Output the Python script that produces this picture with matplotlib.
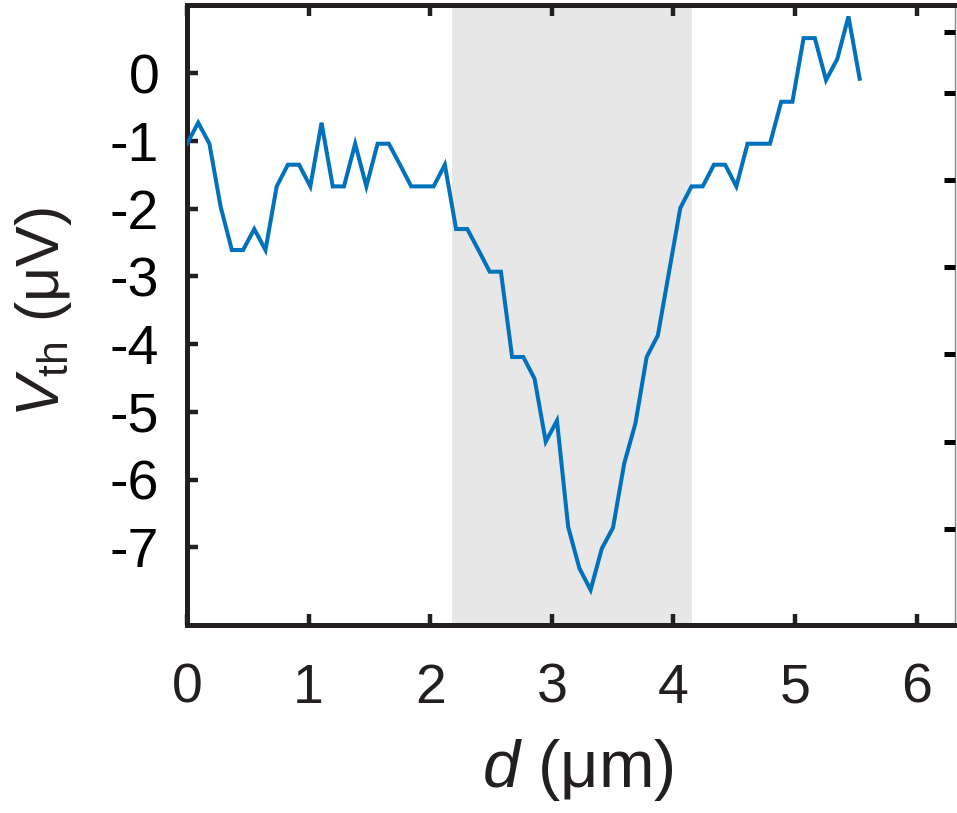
import numpy as np
import matplotlib.pyplot as plt

plt.rcParams['font.family'] = ['Liberation Sans', 'DejaVu Sans']
plt.rcParams['mathtext.fontset'] = 'custom'
plt.rcParams['mathtext.rm'] = 'Liberation Sans'
plt.rcParams['mathtext.it'] = 'Liberation Sans:italic'

# thermoelectric voltage along the line scan
vth = [-1.04, -0.73, -1.04, -1.97, -2.61, -2.61, -2.30, -2.61, -1.67, -1.35,
       -1.35, -1.67, -0.73, -1.67, -1.67, -1.04, -1.67, -1.04, -1.04, -1.35,
       -1.67, -1.67, -1.67, -1.35, -2.30, -2.30, -2.61, -2.93, -2.93, -4.19,
       -4.19, -4.51, -5.44, -5.13, -6.70, -7.31, -7.63, -7.02, -6.71, -5.76,
       -5.17, -4.19, -3.87, -2.93, -1.99, -1.67, -1.67, -1.35, -1.35, -1.67,
       -1.04, -1.04, -1.04, -0.42, -0.42, 0.52, 0.52, -0.10, 0.21, 0.84,
       -0.08]
d_step = 0.0922  # scan step in um
d = np.arange(len(vth)) * d_step

band = (2.18, 4.15)
xticks = [0, 1, 2, 3, 4, 5, 6]
yticks = [0, -1, -2, -3, -4, -5, -6, -7]
right_ticks = [0.61, -0.29, -1.58, -2.86, -4.15, -5.44, -6.73]

ink = '#231f20'

fig = plt.figure(figsize=(9.57, 8.13), dpi=100)
ax = fig.add_axes([187 / 957, 1 - 625 / 813, 768 / 957, 620 / 813])

ax.axvspan(band[0], band[1], color='#e7e7e7', lw=0, zorder=0)
ax.plot(d, vth, color='#0072bd', lw=2.9, solid_joinstyle='miter', zorder=3)

ax.set_xlim(0, 6.316)
ax.set_ylim(-8.148, 1.009)
ax.set_xticks(xticks)
ax.set_yticks(yticks)
ax.set_xticklabels([str(t) for t in xticks])
ax.set_yticklabels([str(t) for t in yticks])

ax.tick_params(axis='x', direction='in', top=True, length=8, width=3.2,
               color=ink, labelsize=40, labelcolor=ink, pad=27)
ax.tick_params(axis='y', direction='in', length=8, width=3.2,
               color=ink, labelsize=40, labelcolor='black', pad=20)

for side in ['left', 'bottom', 'top']:
    ax.spines[side].set_linewidth(3.6)
    ax.spines[side].set_color(ink)
ax.spines['right'].set_linewidth(1.0)
ax.spines['right'].set_color('#888888')

# extra ticks on the right edge
axr = ax.twinx()
axr.set_ylim(ax.get_ylim())
axr.set_yticks(right_ticks)
axr.set_yticklabels([])
axr.tick_params(axis='y', direction='in', length=8, width=3.6, color='black')
for s in axr.spines.values():
    s.set_visible(False)

fig.text(44 / 957, 1 - 312 / 813, r'$V_{\mathrm{th}}$ (μV)', rotation=90,
         ha='center', va='center', fontsize=44, color=ink)
fig.text(578 / 957, 1 - 770 / 813, r'$d$ (μm)', ha='center', va='center',
         fontsize=48, color=ink)

fig.savefig('out.png', dpi=100)
